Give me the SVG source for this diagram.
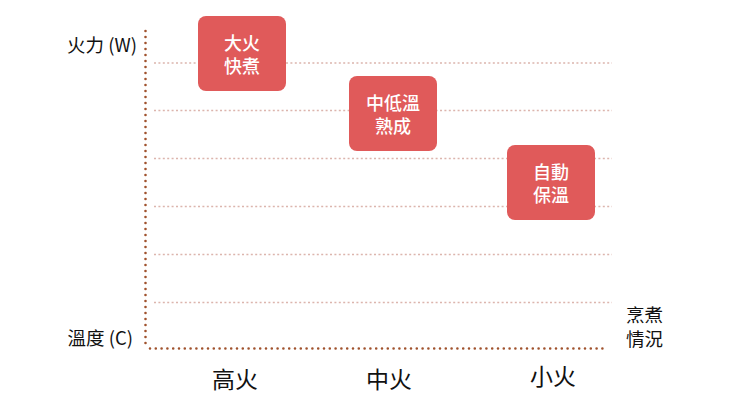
<svg xmlns="http://www.w3.org/2000/svg" width="750" height="400" viewBox="0 0 750 400">
<style>
.axis{stroke:#a0522d;stroke-width:2.6;stroke-linecap:round;fill:none}
.grid{stroke:#dcb5ad;stroke-width:1.6;stroke-dasharray:2 2.4;fill:none}
.box{fill:#e05a5a}
.bt{fill:#fff;font-family:"Noto Sans CJK TC","Noto Sans",sans-serif;font-size:18px;font-weight:500;text-anchor:middle}
.lbl{fill:#111;font-family:"Noto Sans CJK TC","Noto Sans",sans-serif;font-size:18.5px}
.xl{fill:#111;font-family:"Noto Sans CJK TC","Noto Sans",sans-serif;font-size:23px;text-anchor:middle}
</style>
<rect width="750" height="400" fill="#fff"/>
<g id="connectors">
<line class="grid" x1="154" y1="63" x2="612" y2="63"/>
<line class="grid" x1="154" y1="110.5" x2="612" y2="110.5"/>
<line class="grid" x1="154" y1="158.5" x2="612" y2="158.5"/>
<line class="grid" x1="154" y1="206.5" x2="612" y2="206.5"/>
<line class="grid" x1="154" y1="254.5" x2="612" y2="254.5"/>
<line class="grid" x1="154" y1="302.5" x2="612" y2="302.5"/>
<line class="axis" x1="145.5" y1="31" x2="145.5" y2="346" stroke-dasharray="0 6"/>
<line class="axis" x1="150" y1="348.5" x2="608" y2="348.5" stroke-dasharray="0 5.8"/>
</g>
<g id="axis-labels">
<text class="lbl" x="137" y="52" text-anchor="end">火力 (W)</text>
<text class="lbl" x="133" y="345" text-anchor="end">溫度 (C)</text>
<text class="lbl"><tspan x="626" y="322">烹煮</tspan><tspan x="626" y="346">情況</tspan></text>
<text class="xl" x="235" y="388">高火</text>
<text class="xl" x="389" y="388">中火</text>
<text class="xl" x="553" y="385">小火</text>
</g>
<g id="node-high">
<rect class="box" x="198" y="16" width="88" height="75" rx="8"/>
<text class="bt"><tspan x="242" y="49.5">大火</tspan><tspan x="242" y="73">快煮</tspan></text>
</g>
<g id="node-mid">
<rect class="box" x="349" y="76" width="88" height="75" rx="8"/>
<text class="bt"><tspan x="393" y="109.5">中低溫</tspan><tspan x="393" y="133">熟成</tspan></text>
</g>
<g id="node-low">
<rect class="box" x="507" y="145" width="88" height="75" rx="8"/>
<text class="bt"><tspan x="551" y="178.5">自動</tspan><tspan x="551" y="202">保溫</tspan></text>
</g>
</svg>
